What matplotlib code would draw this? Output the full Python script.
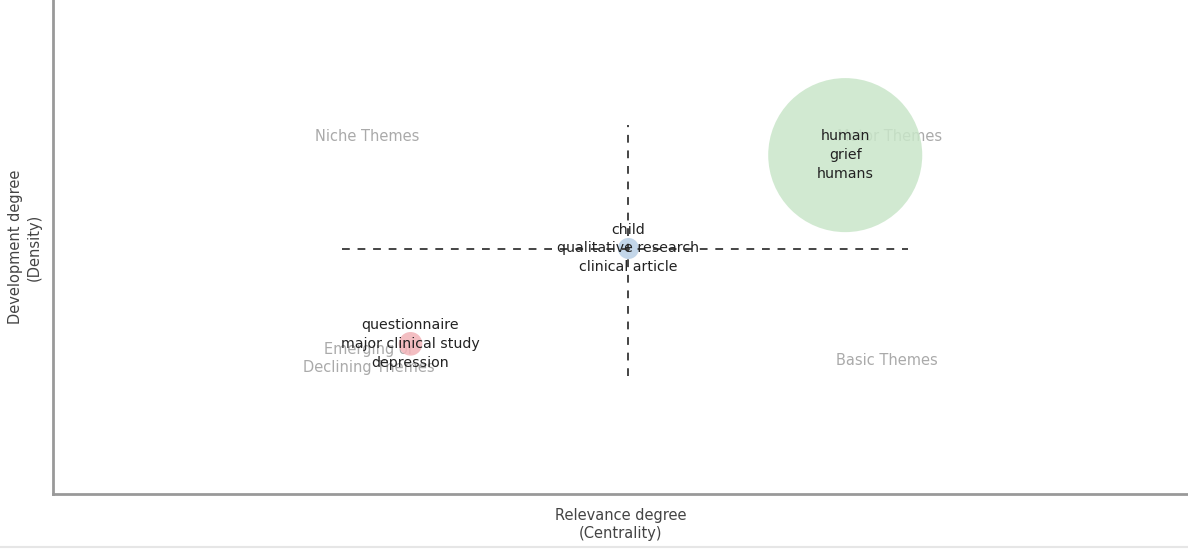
import numpy as np
import matplotlib.pyplot as plt

# thematic map: one bubble per cluster, three top words each
clusters = ["human", "child", "questionnaire"]
centrality = [0.698, 0.507, 0.315]
density = [0.686, 0.497, 0.304]
freq = [12300, 230, 290]
colors = ["#c9e6c9", "#b9cfe6", "#f2b3b8"]
words = [["human", "grief", "humans"],
         ["child", "qualitative research", "clinical article"],
         ["questionnaire", "major clinical study", "depression"]]

quadrants = ["Niche Themes", "Motor Themes", "Emerging or\nDeclining Themes", "Basic Themes"]
quad_x = [0.277, 0.737, 0.278, 0.735]
quad_y = [0.724, 0.724, 0.274, 0.270]

fig = plt.figure(figsize=(11.88, 5.5), dpi=100)
ax = fig.add_axes([53/1188, 1 - 494/550, 1 - 53/1188, 494/550])
ax.set_xlim(0, 1)
ax.set_ylim(0, 1.0)

for i in range(len(quadrants)):
    ax.text(quad_x[i], quad_y[i], quadrants[i], color="#aaaaaa", fontsize=10.5,
            ha="center", va="center", linespacing=1.2, zorder=1)

ax.scatter(centrality, density, s=freq, c=colors, alpha=0.85, edgecolors="none", zorder=2)

cx = np.mean(centrality)
cy = np.mean(density)
ax.plot([cx, cx], [min(density) - 0.065, max(density) + 0.06], ls=(0, (4, 4)),
        color="#444444", lw=1.4, zorder=3)
ax.plot([min(centrality) - 0.06, max(centrality) + 0.055], [cy, cy], ls=(0, (4, 4)),
        color="#444444", lw=1.4, zorder=3)

for i in range(len(clusters)):
    ax.text(centrality[i], density[i], "\n".join(words[i]), fontsize=10.2, color="#222222",
            ha="center", va="center", linespacing=1.45, zorder=4)

for s in ["top", "right"]:
    ax.spines[s].set_visible(False)
for s in ["left", "bottom"]:
    ax.spines[s].set_color("#999999")
    ax.spines[s].set_linewidth(2)
ax.set_xticks([])
ax.set_yticks([])
ax.set_xlabel("Relevance degree\n(Centrality)", fontsize=10.5, color="#444444",
              labelpad=10, linespacing=1.3)
ax.set_ylabel("Development degree\n(Density)", fontsize=10.5, color="#444444",
              labelpad=8, linespacing=1.3)

fig.add_artist(plt.Line2D([0, 1], [1 - 547/550, 1 - 547/550], color="#e6e6e6", lw=1.5))

fig.savefig("out.png", dpi=100)
